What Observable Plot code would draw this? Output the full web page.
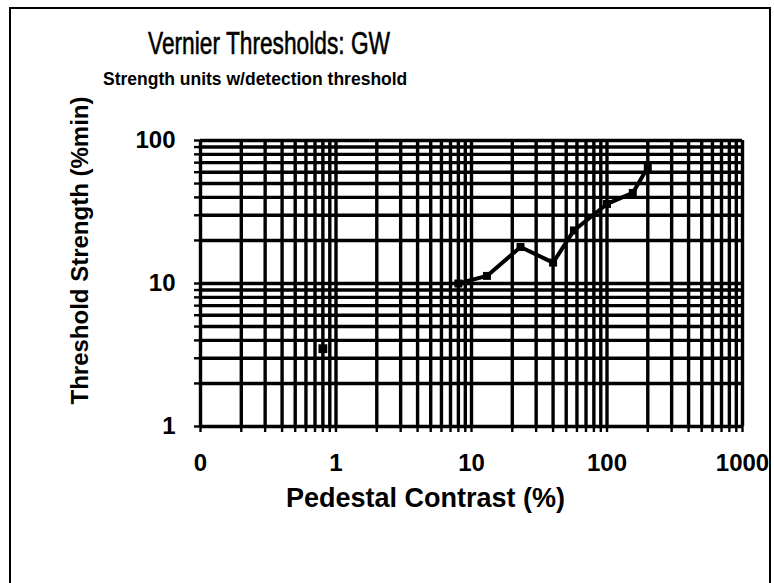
<!DOCTYPE html>
<html>
<head>
<meta charset="utf-8">
<script src="https://cdn.jsdelivr.net/npm/d3@7"></script>
<script src="https://cdn.jsdelivr.net/npm/@observablehq/plot@0.6"></script>
<style>
  body { margin: 0; background: #fff; }
  #wrap { position: relative; width: 774px; height: 583px; overflow: hidden; font-family: "Liberation Sans", Arial, sans-serif; color: #000; }
  #border { position: absolute; left: 9px; top: 7px; width: 762px; height: 640px; border: 2px solid #000; box-sizing: border-box; }
  #title { position: absolute; left: 148px; top: 25px; font-size: 32px; white-space: nowrap; transform: scaleX(0.71); transform-origin: left top; -webkit-text-stroke: 0.6px #000; }
  #subtitle { position: absolute; left: 103px; top: 69px; font-size: 17.5px; font-weight: bold; white-space: nowrap; }
  #chart { position: absolute; left: 0; top: 0; }
</style>
</head>
<body>
<div id="wrap">
  <div id="border"></div>
  <div id="chart"></div>
  <div id="title">Vernier Thresholds: GW</div>
  <div id="subtitle">Strength units w/detection threshold</div>
</div>
<script>
// Pedestal contrast (%) and threshold strength (%min)
const contrast = [8, 13, 23, 40, 57, 100, 155, 200];
const strength = [10, 11.3, 18, 14, 23.5, 36, 43, 65];
// isolated point at low contrast
const isoContrast = [0.8];
const isoStrength = [3.5];

const xDecades = [0.1, 1, 10, 100, 1000];
const xDecadeLabels = ["0", "1", "10", "100", "1000"];
const yDecades = [1, 10, 100];
const yDecadeLabels = ["1", "10", "100"];

const xTitle = "Pedestal Contrast (%)";
const yTitle = "Threshold Strength (%min)";

const xGrid = d3.scaleLog().domain([0.1, 1000]).ticks();
const yGrid = d3.scaleLog().domain([1, 100]).ticks();

const line = contrast.map((c, i) => ({x: c, y: strength[i]}));
const iso = isoContrast.map((c, i) => ({x: c, y: isoStrength[i]}));
const xLab = xDecades.map((d, i) => ({x: d, t: xDecadeLabels[i]}));
const yLab = yDecades.map((d, i) => ({y: d, t: yDecadeLabels[i]}));

const chart = Plot.plot({
  width: 774,
  height: 583,
  marginLeft: 200,
  marginRight: 32,
  marginTop: 140,
  marginBottom: 157,
  style: { fontFamily: "'Liberation Sans', Arial, sans-serif", fontSize: "24px", fontWeight: "bold", color: "#000", background: "transparent", overflow: "visible" },
  x: { type: "log", domain: [0.1, 1000] },
  y: { type: "log", domain: [1, 100] },
  marks: [
    Plot.ruleX(xGrid, { x: d => d, stroke: "#000", strokeWidth: 3.4, strokeOpacity: 1 }),
    Plot.ruleY(yGrid, { y: d => d, stroke: "#000", strokeWidth: 3.4, strokeOpacity: 1 }),
    Plot.axisX(xGrid, { tickSize: 6, tickFormat: () => "", strokeWidth: 2.4, label: null }),
    Plot.axisY(yGrid, { tickSize: 6, tickFormat: () => "", strokeWidth: 2.4, label: null }),
    Plot.text(xLab, { x: "x", text: "t", frameAnchor: "bottom", dy: 44, fontSize: 24, fontWeight: "bold" }),
    Plot.text(yLab, { y: "y", text: "t", frameAnchor: "left", textAnchor: "end", dx: -25, fontSize: 24, fontWeight: "bold" }),
    Plot.line(line, { x: "x", y: "y", stroke: "#000", strokeWidth: 4 }),
    Plot.dot(line, { x: "x", y: "y", symbol: "square", r: 4.5, fill: "#000" }),
    Plot.dot(iso, { x: "x", y: "y", symbol: "square", r: 5, fill: "#000" }),
    Plot.text([xTitle], { text: d => d, frameAnchor: "bottom", dx: -46, dy: 80, fontSize: 27, fontWeight: "bold" }),
    Plot.text([yTitle], { text: d => d, frameAnchor: "left", textAnchor: "middle", rotate: -90, dx: -120, dy: -33, fontSize: 24, fontWeight: "bold" })
  ]
});
document.getElementById("chart").appendChild(chart);
</script>
</body>
</html>
